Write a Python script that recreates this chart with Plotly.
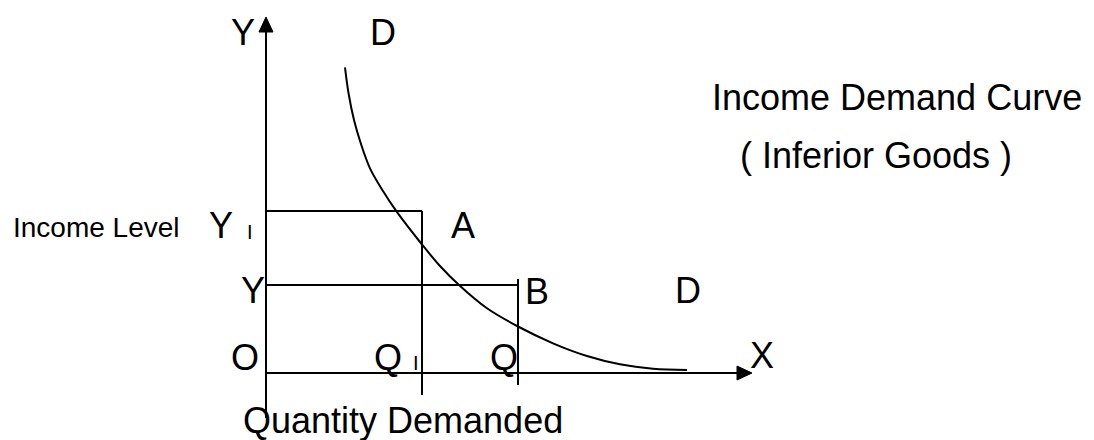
import plotly.graph_objects as go

# Diagram coordinates: origin O at the axes corner, one unit = one pixel of the reference
curve_q = [79, 82.5, 88, 95, 104, 117, 130.7, 156, 174, 193, 221, 252, 287, 321, 354, 387, 421]
curve_y = [305.7, 280, 253, 229, 204.7, 182, 161.3, 128.5, 107, 88, 64.7, 46.5, 29.7, 17, 8.7, 4.3, 3]

income_high = 162   # Y1
income_low = 88     # Y
qty_low = 156       # Q1
qty_high = 252      # Q

y_axis_top = 341
y_axis_bottom = -45
x_axis_end = 471

FONT = "Liberation Sans, Arial, sans-serif"
BLACK = "#000000"

fig = go.Figure()
fig.add_trace(go.Scatter(x=curve_q, y=curve_y, mode="lines",
                         line=dict(color=BLACK, width=2, shape="spline", smoothing=1.0),
                         hoverinfo="skip", showlegend=False))

shapes = []
def line(x0, y0, x1, y1, w=2):
    shapes.append(dict(type="line", x0=x0, y0=y0, x1=x1, y1=y1, xref="x", yref="y",
                       line=dict(color=BLACK, width=w)))

# axes
line(0, y_axis_bottom, 0, y_axis_top)
line(0, 0, x_axis_end, 0)
# arrow heads
shapes.append(dict(type="path", xref="x", yref="y",
                   path=f"M 0,{y_axis_top + 15} L -7,{y_axis_top} L 7,{y_axis_top} Z",
                   fillcolor=BLACK, line=dict(color=BLACK, width=1)))
shapes.append(dict(type="path", xref="x", yref="y",
                   path=f"M {x_axis_end + 15},0 L {x_axis_end},7 L {x_axis_end},-7 Z",
                   fillcolor=BLACK, line=dict(color=BLACK, width=1)))
# income Y1 -> A
line(0, income_high, qty_low, income_high)
line(qty_low, income_high, qty_low, -22)
# income Y -> B
line(0, income_low, qty_high, income_low)
line(qty_high, income_low + 6, qty_high, -12)

annotations = []
def txt(x, y, s, size=36, xanchor="center"):
    annotations.append(dict(x=x, y=y, xref="x", yref="y", text=s, showarrow=False,
                            xanchor=xanchor, yanchor="middle",
                            font=dict(family=FONT, size=size, color=BLACK)))

txt(-23, 341, "Y")
txt(117, 341, "D")
txt(444, 276, "Income Demand Curve", xanchor="left")
txt(472, 218, "( Inferior Goods )", xanchor="left")
txt(-255, 146, "Income Level", size=28, xanchor="left")
txt(-45, 148, "Y")
txt(-16.5, 141, "I", size=20)
txt(197, 148, "A")
txt(-13, 83, "Y")
txt(271, 82, "B")
txt(422, 83, "D")
txt(-21, 16, "O")
txt(121.5, 16, "Q")
txt(150, 10, "I", size=20)
txt(237.5, 16, "Q")
txt(496, 18, "X")
txt(-25, -47, "Quantity Demanded", xanchor="left")

# The page body has an 8px margin, so the figure is 8px smaller and the ranges shifted.
fig.update_layout(
    width=1086, height=432, autosize=False,
    margin=dict(l=0, r=0, t=0, b=0),
    paper_bgcolor="white", plot_bgcolor="white",
    xaxis=dict(range=[-258, 828], visible=False, fixedrange=True),
    yaxis=dict(range=[-67, 365], visible=False, fixedrange=True),
    shapes=shapes, annotations=annotations, showlegend=False,
)
fig.write_html("out.html")
